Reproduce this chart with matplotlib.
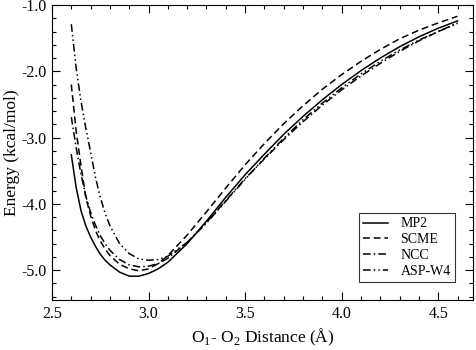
"""
Potential energy curves of the water dimer, O-O distance scan.
"""
import matplotlib
matplotlib.use('Agg')
import matplotlib.pyplot as plt
from matplotlib.ticker import MultipleLocator

plt.rcParams['font.family'] = ['Liberation Serif', 'DejaVu Serif']
plt.rcParams['mathtext.fontset'] = 'custom'
plt.rcParams['mathtext.rm'] = 'Liberation Serif'

# O-O distances (Angstrom)
dist = [2.6, 2.625, 2.65, 2.675, 2.7, 2.725, 2.75, 2.775, 2.8, 2.85, 2.9, 2.95,
        3.0, 3.05, 3.1, 3.2, 3.3, 3.4, 3.5, 3.6, 3.7, 3.8, 3.9, 4.0,
        4.1, 4.2, 4.3, 4.4, 4.5, 4.6]

mp2 = [-3.26, -3.75, -4.10, -4.33, -4.50, -4.64, -4.76, -4.85, -4.92, -5.03, -5.09, -5.09,
       -5.05, -4.98, -4.88, -4.60, -4.26, -3.90, -3.56, -3.25, -2.95, -2.68, -2.43, -2.20,
       -1.99, -1.80, -1.63, -1.48, -1.35, -1.24]
scme = [-2.20, -2.90, -3.42, -3.90, -4.18, -4.40, -4.56, -4.68, -4.78, -4.91, -4.98, -5.01,
        -4.98, -4.90, -4.78, -4.47, -4.12, -3.76, -3.41, -3.09, -2.79, -2.52, -2.27, -2.05,
        -1.85, -1.67, -1.51, -1.38, -1.27, -1.17]
ncc = [-2.69, -3.15, -3.55, -3.88, -4.13, -4.32, -4.48, -4.60, -4.70, -4.84, -4.92, -4.95,
       -4.94, -4.90, -4.82, -4.58, -4.28, -3.95, -3.62, -3.32, -3.03, -2.76, -2.51, -2.28,
       -2.07, -1.88, -1.70, -1.54, -1.40, -1.27]
asp = [-1.29, -1.95, -2.45, -2.86, -3.22, -3.60, -3.90, -4.14, -4.33, -4.60, -4.75, -4.83,
       -4.85, -4.84, -4.79, -4.58, -4.29, -3.96, -3.63, -3.31, -3.01, -2.73, -2.48, -2.25,
       -2.04, -1.85, -1.68, -1.53, -1.40, -1.28]

labels = ['MP2', 'SCME', 'NCC', 'ASP-W4']

fig = plt.figure(figsize=(4.77, 3.5), dpi=100)
ax = fig.add_axes([52 / 477, 50 / 350, 421 / 477, 295 / 350])

lw = 1.1
ax.plot(dist, mp2, color='black', lw=lw, label=labels[0])
ax.plot(dist, scme, color='black', lw=lw, dashes=(4.5, 2.5), label=labels[1])
ax.plot(dist, ncc, color='black', lw=lw, dashes=(5, 2, 1, 2), label=labels[2])
ax.plot(dist, asp, color='black', lw=lw, dashes=(5, 2, 1, 2, 1, 2), label=labels[3])

ax.set_xlim(2.5, 4.68)
ax.set_ylim(-5.45, -1.0)
ax.xaxis.set_major_locator(MultipleLocator(0.5))
ax.xaxis.set_minor_locator(MultipleLocator(0.1))
ax.yaxis.set_major_locator(MultipleLocator(1.0))
ax.yaxis.set_minor_locator(MultipleLocator(0.2))
ax.xaxis.set_major_formatter(plt.FormatStrFormatter('%.1f'))
ax.yaxis.set_major_formatter(plt.FormatStrFormatter('%.1f'))
ax.tick_params(which='both', direction='in', top=True, right=True, width=0.8)
ax.tick_params(which='major', length=6, labelsize=11.5, pad=4)
ax.tick_params(which='minor', length=3)
for s in ax.spines.values():
    s.set_linewidth(0.8)

ax.set_xlabel(r'O$_\mathrm{1}$- O$_\mathrm{2}$ Distance (Å)', fontsize=12.5, labelpad=4)
ax.set_ylabel('Energy (kcal/mol)', fontsize=12.5, labelpad=1)

leg = ax.legend(loc='lower right', fontsize=10, frameon=True, fancybox=False,
                edgecolor='black', handlelength=1.8, handletextpad=0.9,
                labelspacing=0.2, borderpad=0.3, borderaxespad=1.3)
leg.get_frame().set_linewidth(0.8)

plt.savefig('out.png', dpi=100)
